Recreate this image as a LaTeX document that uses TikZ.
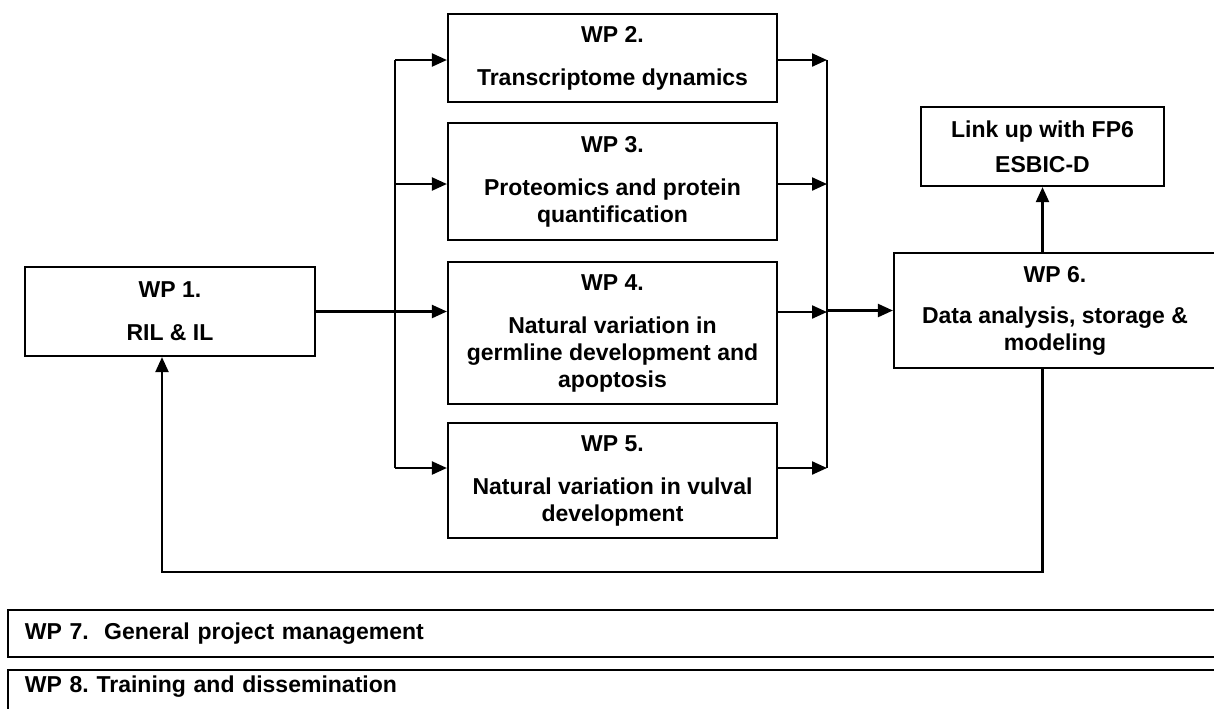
\documentclass[tikz,border=0pt]{standalone}
\usepackage{fontspec}
\setmainfont{Liberation Sans}
\usetikzlibrary{arrows.meta, positioning, calc}

\begin{document}
\frenchspacing
\begin{tikzpicture}[>={Triangle[length=7.5pt,width=6.5pt]}, line width=1.1pt, x=0.5pt, y=-0.5pt,
  every node/.style={font=\bfseries\fontsize{11.5}{13.5}\selectfont},
  wpbox/.style={draw, align=center, inner sep=0pt},
  band/.style={draw, minimum width=606pt, text width=589pt, inner xsep=8.5pt, align=left}]
\useasboundingbox (0,0) rectangle (1214,708);
\clip (0,0) rectangle (1214,708);
% work packages
\node[wpbox, minimum width=145pt, minimum height=44.5pt] (wp1) at (170,311.5) {WP 1.\\[8pt] RIL \& IL};
\node[wpbox, minimum width=164.5pt, minimum height=44pt] (wp2) at (612.5,58) {WP 2.\\[8pt] Transcriptome dynamics};
\node[wpbox, minimum width=164.5pt, minimum height=58.5pt] (wp3) at (612.5,181.5) {WP 3.\\[8pt] Proteomics and protein\\ quantification};
\node[wpbox, minimum width=164.5pt, minimum height=71pt] (wp4) at (612.5,333) {WP 4.\\[8pt] Natural variation in\\ germline development and\\ apoptosis};
\node[wpbox, minimum width=164.5pt, minimum height=57.5pt] (wp5) at (612.5,480.5) {WP 5.\\[8pt] Natural variation in vulval\\ development};
\node[wpbox, minimum width=161pt, minimum height=57.5pt] (wp6) at (1055,310.5) {WP 6.\\[7pt] Data analysis, storage \&\\ modeling};
\node[wpbox, minimum width=121.5pt, minimum height=39.5pt] (link) at (1042.5,146.5) {Link up with FP6\\[4pt] ESBIC-D};
\node[band, minimum height=23.5pt] (wp7) at (614,633.5) {WP 7.~~General project management};
\node[band, anchor=north, inner ysep=3pt, text depth=20pt] (wp8) at (614,669) {WP 8. Training and dissemination};
% bus points
\coordinate (l2) at (395,60);
\coordinate (l3) at (395,184);
\coordinate (l5) at (395,468);
\coordinate (r2) at (827,60);
\coordinate (r3) at (827,184);
\coordinate (r4) at (827,312);
\coordinate (r5) at (827,468);
\coordinate (fb) at (162,572);
% fan out
\draw (l2) -- (l5);
\draw[->] (l2) -- (l2 -| wp2.west);
\draw[->] (l3) -- (l3 -| wp3.west);
\draw[->] (wp1.east) -- (wp1.east -| wp4.west);
\draw[->] (l5) -- (l5 -| wp5.west);
% fan in
\draw (r2) -- (r5);
\draw[->] (r2 -| wp2.east) -- (r2);
\draw[->] (r3 -| wp3.east) -- (r3);
\draw[->] (r4 -| wp4.east) -- (r4);
\draw[->] (r5 -| wp5.east) -- (r5);
\draw[->] (wp6.west -| r2) -- (wp6.west);
% outputs
\draw[->] (wp6.north -| link.south) -- (link.south);
\draw[->] (wp6.south -| link.south) |- (fb) -- (fb |- wp1.south);
\end{tikzpicture}
\end{document}
